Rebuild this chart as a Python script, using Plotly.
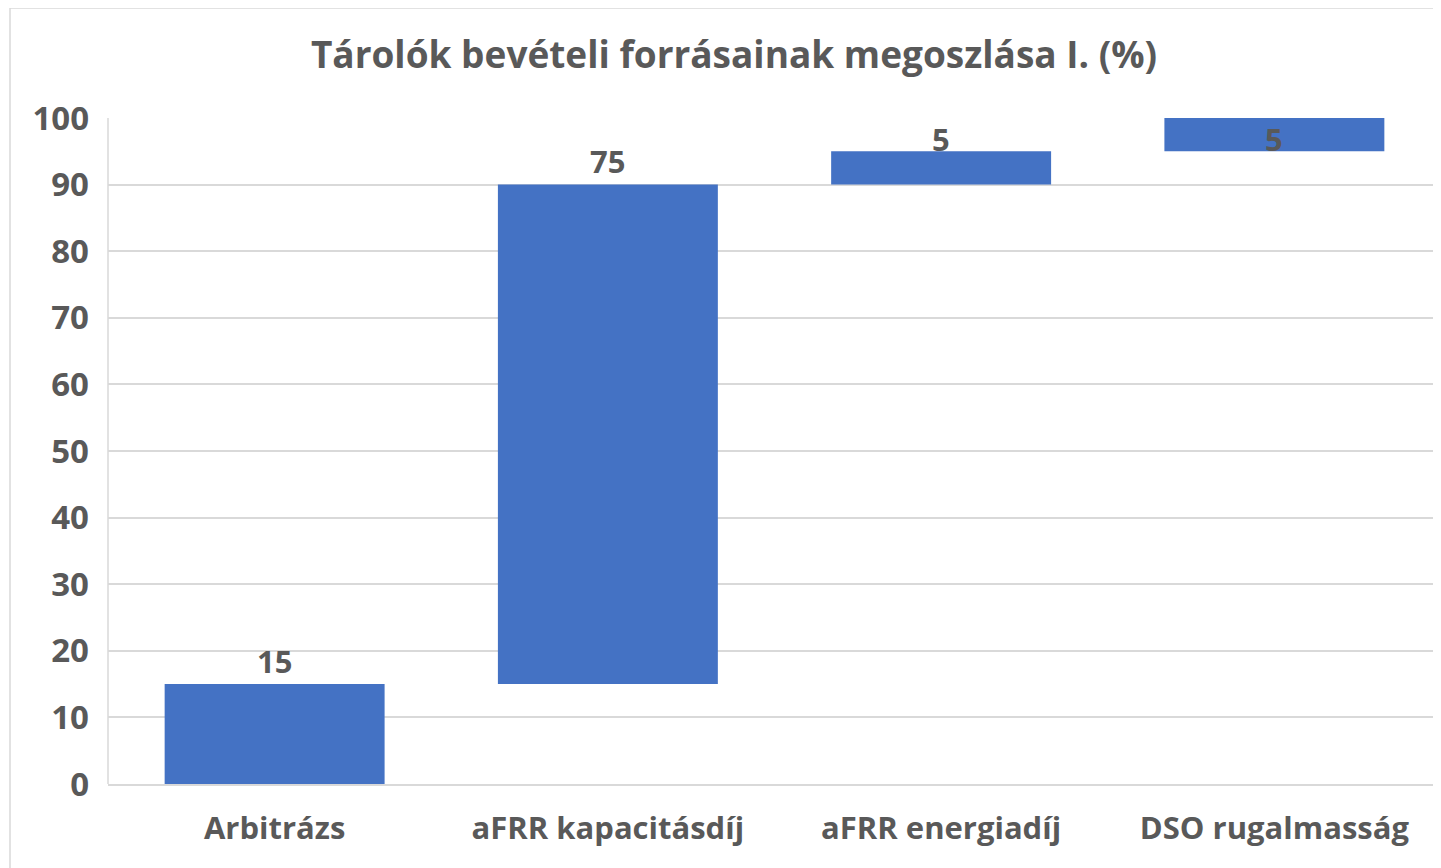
import plotly.graph_objects as go

categories = ["Arbitrázs", "aFRR kapacitásdíj", "aFRR energiadíj", "DSO rugalmasság"]
values = [15, 75, 5, 5]
title_text = "Tárolók bevételi forrásainak megoszlása I. (%)"

BAR = "#4472C4"
TXT = "#595959"
FONT = "Open Sans, Liberation Sans, sans-serif"

# page body has an 8px margin -> figure starts at (8, 8) in the viewport
W, H = 1433, 860
ML, MT, MB, MR = 100, 110, 84, 0
PW, PH = W - ML - MR, H - MT - MB

fig = go.Figure()
fig.add_trace(go.Waterfall(
    x=categories,
    y=values,
    measure=["relative"] * len(values),
    increasing=dict(marker=dict(color=BAR)),
    decreasing=dict(marker=dict(color=BAR)),
    totals=dict(marker=dict(color=BAR)),
    connector=dict(visible=False),
    width=0.66,
    hoverinfo="x+y",
    showlegend=False,
))

# data labels above each bar end (kept inside plot area near the top)
cum = 0
for c, v in zip(categories, values):
    cum += v
    ly = min(cum + 3.5, 96.8)
    fig.add_annotation(x=c, y=ly, text=str(v), showarrow=False,
                       font=dict(family=FONT, size=31, color=TXT, weight="bold"),
                       yanchor="middle")

bx = (2 - ML) / PW
by = 1 + MT / PH
fig.update_layout(
    width=W, height=H,
    margin=dict(l=ML, r=MR, t=MT, b=MB),
    paper_bgcolor="white", plot_bgcolor="white",
    title=dict(text=title_text, x=726 / W, xanchor="center", y=1 - 47 / H, yanchor="middle",
               font=dict(family=FONT, size=37, color=TXT, weight="bold")),
    font=dict(family=FONT, color=TXT),
    yaxis=dict(range=[0, 100], dtick=10, showgrid=True, gridcolor="#D9D9D9", gridwidth=1.5,
               zeroline=False, showline=False, ticks="",
               tickfont=dict(family=FONT, size=33, color=TXT, weight="bold"),
               ticklabelstandoff=18),
    xaxis=dict(showline=True, linecolor="#D9D9D9", linewidth=1.5, ticks="",
               tickfont=dict(family=FONT, size=31, color=TXT, weight="bold"),
               ticklabelstandoff=16),
    shapes=[
        dict(type="line", xref="paper", yref="paper", x0=bx, x1=bx,
             y0=-0.2, y1=by, line=dict(color="#D9D9D9", width=1.5)),
        dict(type="line", xref="paper", yref="paper", x0=bx, x1=1.1,
             y0=by, y1=by, line=dict(color="#D9D9D9", width=1.5)),
        dict(type="line", xref="paper", yref="paper", x0=0, x1=0,
             y0=0, y1=1, line=dict(color="#D9D9D9", width=1.5)),
    ],
)

fig.write_html("out.html")
